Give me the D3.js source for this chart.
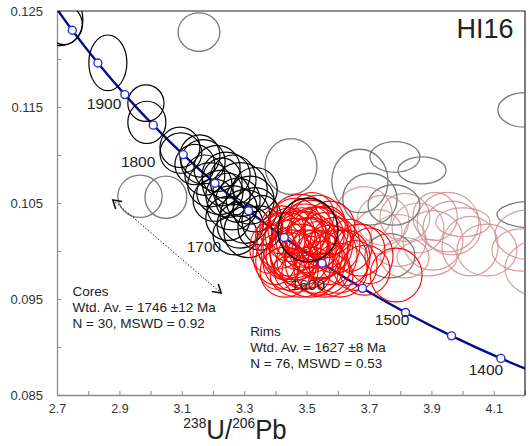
<!DOCTYPE html>
<html>
<head>
<meta charset="utf-8">
<script src="https://cdn.jsdelivr.net/npm/d3@7"></script>
<style>
  body { margin: 0; background: #fff; }
  svg { display: block; font-family: "Liberation Sans", Arial, sans-serif; }
</style>
</head>
<body>
<script>
// concordia curve (ages in Ma)
var concAge = [1350, 1400, 1450, 1500, 1550, 1600, 1650, 1700, 1750, 1800, 1850, 1900, 1950, 2000, 2050];
var concX = [4.2926, 4.1226, 3.9645, 3.8170, 3.6790, 3.5497, 3.4282, 3.3140, 3.2063, 3.1046, 3.0084, 2.9174, 2.8310, 2.7490, 2.6711];
var concY = [0.08653, 0.08881, 0.09116, 0.09360, 0.09611, 0.09872, 0.10141, 0.10419, 0.10706, 0.11004, 0.11311, 0.11629, 0.11958, 0.12299, 0.12651];

// age labels on the curve
var labelAge = ["1400", "1500", "1600", "1700", "1800", "1900"];
var labelX = [4.075, 3.774, 3.504, 3.171, 2.960, 2.851];
var labelY = [0.08771, 0.09292, 0.09656, 0.10052, 0.10938, 0.11542];

// ticks
var xTicks = [2.7, 2.8, 2.9, 3.0, 3.1, 3.2, 3.3, 3.4, 3.5, 3.6, 3.7, 3.8, 3.9, 4.0, 4.1, 4.2];
var xTickLabels = ["2.7", "2.9", "3.1", "3.3", "3.5", "3.7", "3.9", "4.1"];
var yTicks = [0.085, 0.090, 0.095, 0.100, 0.105, 0.110, 0.115, 0.120, 0.125];
var yTickLabels = ["0.085", "0.095", "0.105", "0.115", "0.125"];

// error ellipses: [x, y, semi-axis x, semi-axis y]
var grayEll = [
  [3.155, 0.1228, 0.067, 0.0020], [2.966, 0.1057, 0.071, 0.0022], [3.049, 0.1056, 0.067, 0.0022],
  [3.450, 0.1088, 0.083, 0.0029], [3.671, 0.1073, 0.090, 0.0033], [3.783, 0.1098, 0.080, 0.0016],
  [3.870, 0.1084, 0.077, 0.0014], [3.703, 0.1054, 0.087, 0.0027], [3.780, 0.1048, 0.083, 0.0021],
  [4.229, 0.1038, 0.119, 0.0014], [3.767, 0.0995, 0.080, 0.0023], [4.200, 0.1147, 0.087, 0.0018]
];
var pinkEll = [
  [3.684, 0.1039, 0.090, 0.0028], [3.745, 0.1032, 0.083, 0.0026], [3.815, 0.1035, 0.080, 0.0025],
  [3.857, 0.1024, 0.083, 0.0026], [3.912, 0.1036, 0.071, 0.0025], [3.953, 0.1030, 0.099, 0.0031],
  [3.966, 0.1024, 0.093, 0.0028], [4.001, 0.1030, 0.087, 0.0015], [3.905, 0.1011, 0.096, 0.0031],
  [3.886, 0.0993, 0.096, 0.0019], [3.815, 0.0993, 0.077, 0.0021], [4.024, 0.1005, 0.090, 0.0031],
  [4.078, 0.1001, 0.096, 0.0027], [4.216, 0.1017, 0.112, 0.0026], [4.190, 0.1001, 0.096, 0.0022],
  [4.264, 0.0982, 0.128, 0.0031], [3.793, 0.1011, 0.090, 0.0027], [3.729, 0.1020, 0.077, 0.0023]
];
var coreEll = [
  [2.722, 0.1241, 0.061, 0.0026], [2.710, 0.1236, 0.071, 0.0022], [2.863, 0.1196, 0.061, 0.0029],
  [2.985, 0.1154, 0.058, 0.0019], [2.988, 0.1134, 0.061, 0.0022], [3.094, 0.1108, 0.064, 0.0021],
  [3.158, 0.1099, 0.064, 0.0022], [3.168, 0.1093, 0.071, 0.0023], [3.097, 0.1102, 0.067, 0.0021],
  [3.213, 0.1086, 0.074, 0.0024], [3.242, 0.1079, 0.077, 0.0024], [3.264, 0.1074, 0.074, 0.0026],
  [3.222, 0.1061, 0.074, 0.0023], [3.287, 0.1064, 0.087, 0.0028], [3.261, 0.1045, 0.080, 0.0023],
  [3.303, 0.1036, 0.080, 0.0028], [3.190, 0.1069, 0.071, 0.0023], [3.203, 0.1053, 0.067, 0.0022],
  [3.248, 0.1058, 0.071, 0.0023], [3.280, 0.1053, 0.071, 0.0023], [3.319, 0.1053, 0.077, 0.0025],
  [3.229, 0.1072, 0.064, 0.0025], [3.335, 0.1043, 0.071, 0.0023], [3.287, 0.1027, 0.074, 0.0024],
  [3.351, 0.1024, 0.071, 0.0023], [3.312, 0.1020, 0.077, 0.0027], [3.271, 0.1017, 0.071, 0.0021],
  [3.357, 0.1032, 0.064, 0.0026], [3.248, 0.1034, 0.071, 0.0023], [3.174, 0.1079, 0.064, 0.0021],
  [3.142, 0.1090, 0.064, 0.0021], [3.335, 0.1064, 0.071, 0.0023]
];
var bigCore = [[3.504, 0.1022, 0.096, 0.0033]];
var rimEll = [
  [3.479, 0.1011, 0.090, 0.0031], [3.495, 0.1016, 0.096, 0.0033], [3.511, 0.1006, 0.087, 0.0029],
  [3.463, 0.1003, 0.083, 0.0031], [3.527, 0.1014, 0.093, 0.0032], [3.447, 0.1017, 0.080, 0.0028],
  [3.543, 0.1001, 0.090, 0.0030], [3.479, 0.0996, 0.096, 0.0032], [3.431, 0.1001, 0.077, 0.0031],
  [3.511, 0.1022, 0.090, 0.0031], [3.559, 0.1011, 0.083, 0.0029], [3.463, 0.1024, 0.087, 0.0031],
  [3.495, 0.0991, 0.090, 0.0031], [3.415, 0.1011, 0.080, 0.0029], [3.575, 0.0996, 0.087, 0.0031],
  [3.527, 0.0989, 0.096, 0.0033], [3.447, 0.0989, 0.087, 0.0030], [3.479, 0.1030, 0.096, 0.0029],
  [3.537, 0.1027, 0.087, 0.0031], [3.399, 0.0996, 0.071, 0.0031], [3.431, 0.0978, 0.080, 0.0026],
  [3.511, 0.0978, 0.090, 0.0026], [3.591, 0.1006, 0.080, 0.0029], [3.623, 0.0993, 0.080, 0.0029],
  [3.655, 0.0985, 0.071, 0.0026], [3.703, 0.0995, 0.074, 0.0029], [3.787, 0.0975, 0.083, 0.0028],
  [3.671, 0.1001, 0.080, 0.0027], [3.607, 0.0980, 0.087, 0.0028], [3.559, 0.0975, 0.090, 0.0023],
  [3.479, 0.0975, 0.096, 0.0023], [3.408, 0.0989, 0.071, 0.0029], [3.376, 0.1003, 0.058, 0.0026],
  [3.517, 0.1038, 0.071, 0.0023], [3.575, 0.1024, 0.080, 0.0028], [3.463, 0.1006, 0.103, 0.0036],
  [3.543, 0.1009, 0.106, 0.0037], [3.495, 0.1001, 0.112, 0.0040], [3.437, 0.1007, 0.096, 0.0033],
  [3.639, 0.1006, 0.071, 0.0027], [3.601, 0.0989, 0.096, 0.0033], [3.549, 0.0982, 0.090, 0.0028],
  [3.453, 0.0995, 0.083, 0.0027], [3.485, 0.1020, 0.077, 0.0025], [3.537, 0.0995, 0.077, 0.0025],
  [3.504, 0.1011, 0.071, 0.0023], [3.466, 0.0980, 0.071, 0.0023], [3.421, 0.1022, 0.071, 0.0025],
  [3.562, 0.1020, 0.071, 0.0027], [3.687, 0.0980, 0.080, 0.0026]
];

var W = 530, H = 446;
var margin = { left: 57, top: 11, right: 5, bottom: 51 };

var x = d3.scaleLinear().domain([2.7, 4.2]).range([margin.left, W - margin.right]);
var y = d3.scaleLinear().domain([0.085, 0.125]).range([H - margin.bottom, margin.top]);

var svg = d3.select('body').append('svg')
    .attr('width', W)
    .attr('height', H);

var defs = svg.append('defs');
defs.append('clipPath').attr('id', 'plotclip')
  .append('rect')
    .attr('x', margin.left)
    .attr('y', margin.top)
    .attr('width', W - margin.left - margin.right)
    .attr('height', H - margin.top - margin.bottom);
defs.append('marker')
    .attr('id', 'chev')
    .attr('viewBox', '-1 -6 12 12')
    .attr('refX', 9)
    .attr('refY', 0)
    .attr('markerWidth', 12)
    .attr('markerHeight', 12)
    .attr('markerUnits', 'userSpaceOnUse')
    .attr('orient', 'auto-start-reverse')
  .append('path')
    .attr('d', 'M1,-5L9,0L1,5')
    .attr('fill', 'none')
    .attr('stroke', '#111')
    .attr('stroke-width', 1.6);

// axes
var xAxis = d3.axisBottom(x)
    .tickValues(xTicks)
    .tickSizeInner(-4)
    .tickSizeOuter(0)
    .tickPadding(9)
    .tickFormat(function (d) { var s = d.toFixed(1); return xTickLabels.indexOf(s) >= 0 ? s : ''; });
var yAxis = d3.axisLeft(y)
    .tickValues(yTicks)
    .tickSizeInner(-4)
    .tickSizeOuter(0)
    .tickPadding(14)
    .tickFormat(function (d) { var s = d.toFixed(3); return yTickLabels.indexOf(s) >= 0 ? s : ''; });

var gx = svg.append('g').attr('transform', 'translate(0,' + (H - margin.bottom) + ')').call(xAxis);
var gy = svg.append('g').attr('transform', 'translate(' + margin.left + ',0)').call(yAxis);
[gx, gy].forEach(function (g) {
  g.select('.domain').attr('stroke', '#8a8a8a').attr('stroke-width', 1.3);
  g.selectAll('.tick line').attr('stroke', '#8a8a8a');
  g.selectAll('.tick text').attr('fill', '#333').attr('font-family', '"Liberation Sans", Arial, sans-serif');
});
gx.selectAll('.tick text').attr('font-size', 12.5);
gy.selectAll('.tick text').attr('font-size', 13);

// top and right frame
svg.append('path')
    .attr('d', 'M' + margin.left + ',' + margin.top + 'H' + (W - margin.right) + 'V' + (H - margin.bottom))
    .attr('fill', 'none')
    .attr('stroke', '#222')
    .attr('stroke-width', 1.2);

var plot = svg.append('g').attr('clip-path', 'url(#plotclip)');

// concordia
var line = d3.line()
    .x(function (d, i) { return x(concX[i]); })
    .y(function (d, i) { return y(concY[i]); })
    .curve(d3.curveNatural);
plot.append('path')
    .datum(concAge)
    .attr('d', line)
    .attr('fill', 'none')
    .attr('stroke', '#00088f')
    .attr('stroke-width', 2.3);

function drawEllipses(data, color, width, opacity) {
  plot.append('g').selectAll('ellipse')
    .data(data)
    .join('ellipse')
      .attr('cx', function (d) { return x(d[0]); })
      .attr('cy', function (d) { return y(d[1]); })
      .attr('rx', function (d) { return x(d[0] + d[2]) - x(d[0]); })
      .attr('ry', function (d) { return y(d[1]) - y(d[1] + d[3]); })
      .attr('fill', 'none')
      .attr('stroke', color)
      .attr('stroke-width', width)
      .attr('stroke-opacity', opacity);
}
drawEllipses(pinkEll, '#cf8d8d', 1.2, 0.85);
drawEllipses(grayEll, '#7a7a7a', 1.3, 1);
drawEllipses(coreEll, '#000', 1.2, 1);
drawEllipses(rimEll, '#ff0000', 1.1, 1);
drawEllipses(bigCore, '#000', 1.4, 1);

// age markers
plot.append('g').selectAll('circle')
  .data(concAge.slice(1, 14))
  .join('circle')
    .attr('cx', function (d) { return x(concX[concAge.indexOf(d)]); })
    .attr('cy', function (d) { return y(concY[concAge.indexOf(d)]); })
    .attr('r', 4)
    .attr('fill', '#fff')
    .attr('stroke', '#2f2fd8')
    .attr('stroke-width', 1.4);

svg.append('g').selectAll('text')
  .data(labelAge)
  .join('text')
    .attr('x', function (d, i) { return x(labelX[i]); })
    .attr('y', function (d, i) { return y(labelY[i]); })
    .attr('dy', '0.36em')
    .attr('text-anchor', 'middle')
    .attr('font-size', 15.5)
    .attr('fill', '#222')
    .text(function (d) { return d; });

// dotted double arrow
svg.append('line')
    .attr('x1', x(2.879)).attr('y1', y(0.10531))
    .attr('x2', x(3.226)).attr('y2', y(0.09563))
    .attr('stroke', '#222')
    .attr('stroke-width', 1)
    .attr('stroke-dasharray', '1.5,1.8')
    .attr('marker-start', 'url(#chev)')
    .attr('marker-end', 'url(#chev)');

// annotations
function block(x0, y0, lines) {
  var t = svg.append('text')
      .attr('x', x(x0))
      .attr('y', y(y0))
      .attr('font-size', 13.5)
      .attr('fill', '#222');
  lines.forEach(function (s, i) {
    t.append('tspan').attr('x', x(x0)).attr('dy', i === 0 ? 0 : 15.7).text(s);
  });
}
block(2.75, 0.0953, ['Cores', 'Wtd. Av. = 1746 \u00b112 Ma', 'N = 30, MSWD = 0.92']);
block(3.319, 0.0911, ['Rims', 'Wtd. Av. = 1627 \u00b18 Ma', 'N = 76, MSWD = 0.53']);

svg.append('text')
    .attr('x', x(4.163))
    .attr('y', y(0.1222))
    .attr('text-anchor', 'end')
    .attr('font-size', 27)
    .attr('fill', '#222')
    .text('HI16');

// axis title 238U/206Pb
var title = svg.append('g')
    .attr('transform', 'translate(' + ((margin.left + W - margin.right) / 2 - 56) + ',439) scale(0.92,1)')
  .append('text')
    .attr('text-anchor', 'middle')
    .attr('fill', '#222');
title.append('tspan').attr('font-size', 15).attr('dy', -11).text('238');
title.append('tspan').attr('font-size', 28).attr('dy', 11).text('U/');
title.append('tspan').attr('font-size', 15).attr('dy', -11).text('206');
title.append('tspan').attr('font-size', 28).attr('dy', 11).text('Pb');
</script>
</body>
</html>
